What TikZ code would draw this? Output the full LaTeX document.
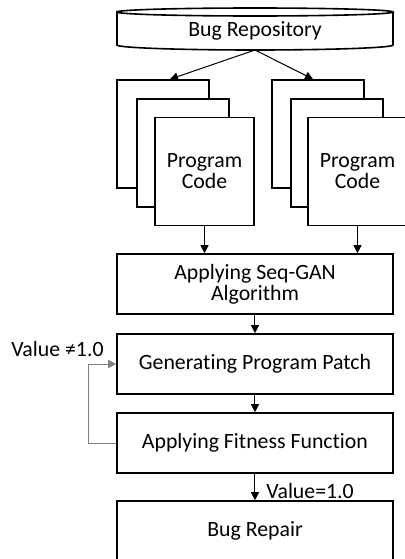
\documentclass[tikz,border=0pt]{standalone}
\usepackage{fontspec}
\setmainfont{Carlito}[Ligatures=NoCommon]
\usetikzlibrary{positioning,arrows.meta}

\begin{document}
\begin{tikzpicture}[x=0.5pt,y=0.5pt,
  font=\fontsize{10.9}{10.5}\selectfont,
  box/.style={draw,line width=0.8pt,fill=white,minimum width=138pt,minimum height=30pt,inner sep=0pt,align=center},
  stackbox/.style={draw,line width=0.8pt,fill=white,minimum width=46pt,minimum height=54pt,inner sep=0pt,align=center},
  frontbox/.style={stackbox,minimum width=49.5pt},
  arr/.style={-{Triangle[length=4pt,width=4pt]},line width=0.5pt}]
\useasboundingbox (0,0) rectangle (405,559);

% repository
\node[minimum width=138pt,minimum height=16pt,inner sep=0pt] (repo) at (255,528) {Bug Repository};
\draw[line width=0.8pt]
(117,547) arc[start angle=180,end angle=0,x radius=138,y radius=4]
arc[start angle=0,end angle=-180,x radius=138,y radius=4] --
(117,514) arc[start angle=180,end angle=360,x radius=138,y radius=5] --
(393,547);
\coordinate (repobot) at (255,509);

% left stack
\node[stackbox] (lb1) at (163,425) {};
\node[stackbox] (lb2) at (183,406) {};
\node[frontbox] (lb3) at (204.5,387.5) {Program\\Code};

% right stack
\node[stackbox] (rb1) at (318,425) {};
\node[stackbox] (rb2) at (337,406) {};
\node[frontbox] (rb3) at (357.5,387.5) {Program\\Code};

\draw[arr] (repobot) -- ([xshift=3.5pt]lb1.north);
\draw[arr] (repobot) -- ([xshift=-2.5pt]rb1.north);

% main flow
\node[box] (seqgan) at (255,275) {Applying Seq-GAN\\Algorithm};
\node[box] (patch) at (255,195) {Generating Program Patch};
\node[box] (fitness) at (255,116) {Applying Fitness Function};
\node[box] (repair) at (255,28) {Bug Repair};

\draw[arr] (lb3.south) -- (lb3.south |- seqgan.north);
\draw[arr] (rb3.south) -- (rb3.south |- seqgan.north);
\draw[arr] (seqgan) -- (patch);
\draw[arr] (patch) -- (fitness);
\draw[arr] (fitness) -- (repair);

% loop back
\draw[arr,gray] (fitness.west) -- ++(-28,0) |- (patch.west);
\node[anchor=east,inner sep=0pt] (notone) at (104,210) {Value ≠1.0};
\node[anchor=west,inner sep=0pt] (isone) at (266,68) {Value=1.0};

\end{tikzpicture}
\end{document}
